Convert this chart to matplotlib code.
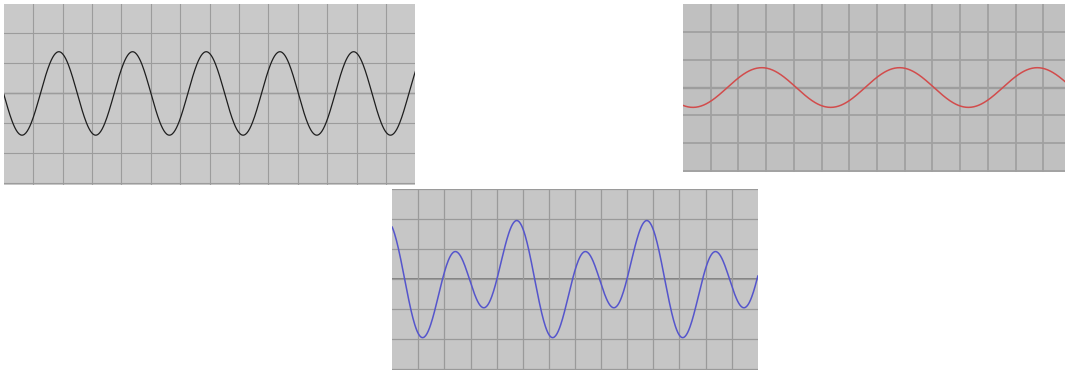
import numpy as np
import matplotlib
matplotlib.use("Agg")
import matplotlib.pyplot as plt

# Wave parameters (x in grid cells, y in grid rows)
# black panel: single fast wave
black_amp = 1.39
black_period = 2.507
black_zero_up = 1.243

# red panel: single slow wave
red_amp = 0.71
red_period = 4.97
red_zero_up = 1.6

# blue panel: fast + slow component
blue_amps = [1.42, 0.72]
blue_periods = [2.49, 4.98]
blue_zero_ups = [1.72, 2.98]

n_cells_x = 14

W, H = 1065, 370
fig = plt.figure(figsize=(W / 100, H / 100), dpi=100)
fig.patch.set_facecolor("white")


def panel(left, top, width, height, ylim, yticks, bg, grid_lw, grid_col, zero_lw, zero_col):
    # pixel box -> figure fraction
    ax = fig.add_axes([left / W, (H - top - height) / H, width / W, height / H])
    ax.set_facecolor(bg)
    ax.set_xlim(0, n_cells_x)
    ax.set_ylim(*ylim)
    ax.set_xticks(range(1, n_cells_x))
    ax.set_yticks(yticks)
    ax.grid(True, color=grid_col, lw=grid_lw)
    ax.axhline(0, color=zero_col, lw=zero_lw, zorder=1.5)
    ax.tick_params(length=0, labelbottom=False, labelleft=False)
    for s in ax.spines.values():
        s.set_visible(False)
    return ax


def wave(x, amp, period, zero_up):
    return amp * np.sin(2 * np.pi * (x - zero_up) / period)


x = np.linspace(0, n_cells_x, 600)

# top-left, black
ax1 = panel(3.9, 4.0, 411.5, 181.0, (-3.05, 2.98), range(-3, 3), "#c9c9c9",
            0.8, "#9c9c9c", 0.9, "#6a6a6a")
ax1.plot(x, wave(x, black_amp, black_period, black_zero_up), color="#1e1e1e", lw=0.9)

# top-right, red (runs past the figure edge)
ax2 = panel(683.0, 3.7, 388.0, 168.5, (-3.03, 3.0), range(-3, 3), "#c0c0c0",
            1.3, "#a0a0a0", 1.6, "#868686")
ax2.plot(x, wave(x, red_amp, red_period, red_zero_up), color="#d24c4c", lw=1.1)

# bottom, blue = sum of two components
ax3 = panel(392.2, 188.7, 365.6, 181.3, (-3.02, 3.02), range(-3, 4), "#c6c6c6",
            0.9, "#9a9a9a", 1.2, "#767676")
y3 = sum(wave(x, a, p, z) for a, p, z in zip(blue_amps, blue_periods, blue_zero_ups))
ax3.plot(x, y3, color="#5555cc", lw=1.1)

fig.savefig("out.png", dpi=100, facecolor="white")
